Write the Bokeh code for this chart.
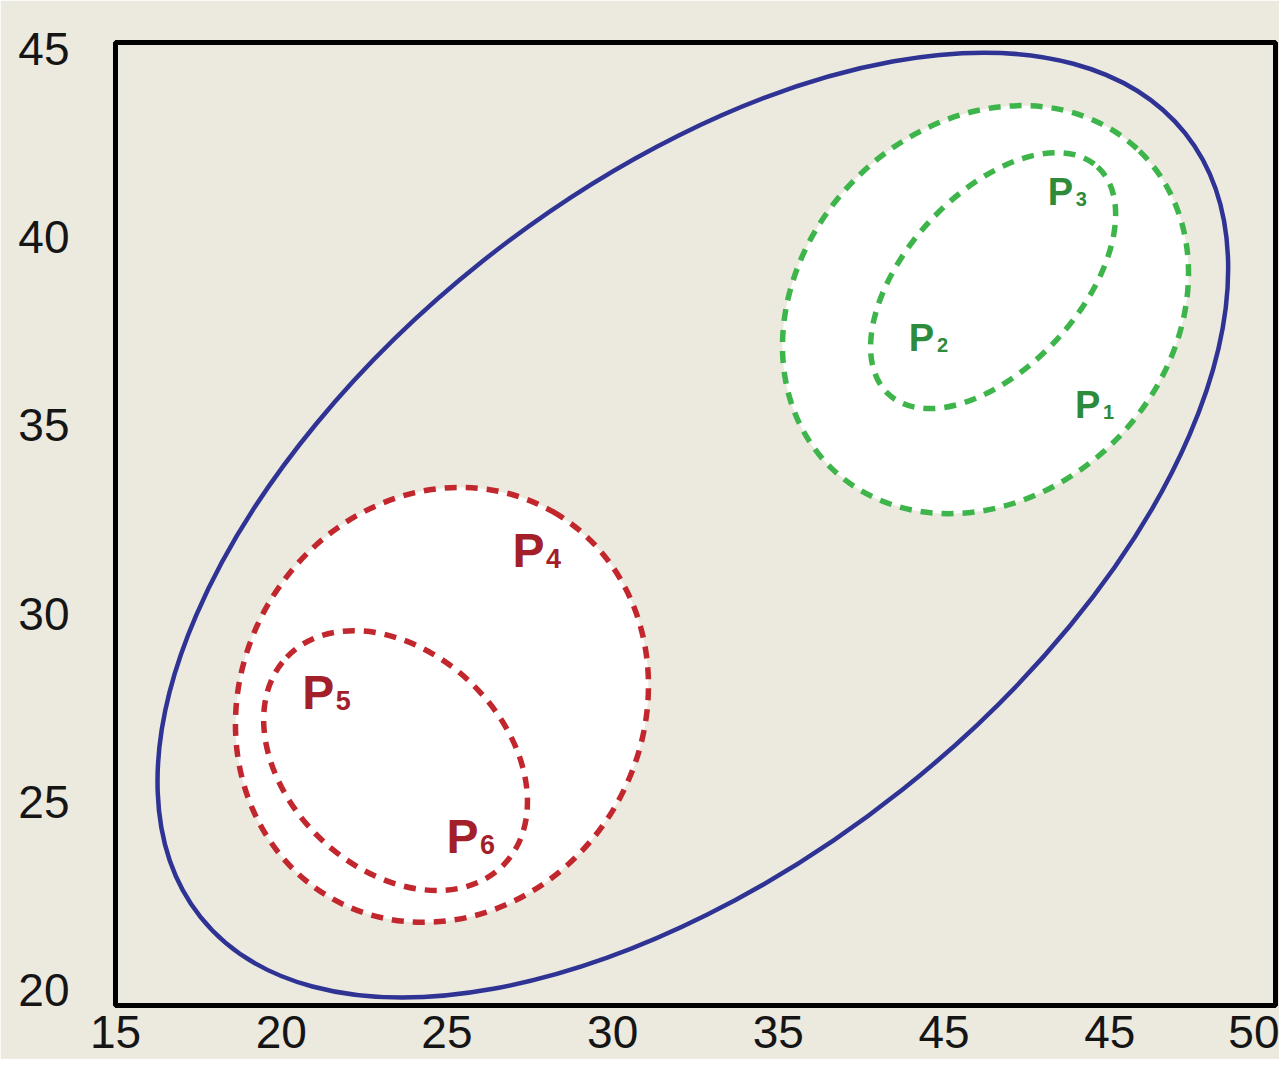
from bokeh.plotting import figure
from bokeh.models import ColumnDataSource
from bokeh.core.properties import value
from bokeh.embed import file_html
from bokeh.resources import INLINE

# ---- data ----
x_tick_values = [15, 20, 25, 30, 35, 40, 45, 50]
x_tick_labels = ["15", "20", "25", "30", "35", "45", "45", "50"]
y_tick_values = [20, 25, 30, 35, 40, 45]

# blue outer region
blue_x = [32.42]
blue_y = [32.35]
blue_w = [37.97]
blue_h = [17.92]
blue_angle = [38.5]

# green regions (outer P1, inner P2/P3)
green_x = [41.25, 41.48]
green_y = [38.07, 38.84]
green_w = [13.34, 9.32]
green_h = [9.79, 4.61]
green_angle = [45.8, 47.4]

# red regions (outer P4, inner P5/P6)
red_x = [24.85, 23.45]
red_y = [27.58, 26.10]
red_w = [13.44, 9.06]
red_h = [10.66, 5.75]
red_angle = [60.0, 136.4]

green_label_x = [44.33, 39.32, 43.51]
green_label_y = [35.53, 37.33, 41.18]
green_label_sub = ["1", "2", "3"]

red_label_x = [27.46, 21.12, 25.47]
red_label_y = [31.68, 27.91, 24.09]
red_label_sub = ["4", "5", "6"]

BG = "#ECE9DF"
BLUE = "#2E3394"
GREEN = "#3DB54A"
GREEN_TXT = "#2E8B3C"
RED = "#C1272D"
RED_TXT = "#A31F2A"

p = figure(width=1279, height=1059, x_range=(15, 50), y_range=(19.60, 45.16),
           output_backend="svg", toolbar_location=None,
           min_border_left=115, min_border_right=4, min_border_top=42, min_border_bottom=54)

p.background_fill_color = BG
p.border_fill_color = BG
p.outline_line_color = "black"
p.outline_line_width = 5
p.grid.visible = False

p.xaxis.ticker = x_tick_values
p.xaxis.major_label_overrides = {v: l for v, l in zip(x_tick_values, x_tick_labels)}
p.yaxis.ticker = y_tick_values
for ax in (p.xaxis, p.yaxis):
    ax.axis_line_color = None
    ax.major_tick_line_color = None
    ax.minor_tick_line_color = None
    ax.major_label_text_color = "#151515"
p.xaxis.major_label_text_font = "Liberation Sans"
p.xaxis.major_label_text_font_size = "46px"
p.xaxis.major_label_standoff = 4
p.yaxis.major_label_text_font = "Liberation Sans"
p.yaxis.major_label_text_font_size = "46px"
p.yaxis.major_label_standoff = 40

# blue
p.ellipse(x=blue_x, y=blue_y, width=blue_w, height=blue_h, angle=blue_angle,
          angle_units="deg", fill_color=None, line_color=BLUE, line_width=4.5)

# green
gsrc = ColumnDataSource(dict(x=green_x, y=green_y, w=green_w, h=green_h, a=green_angle))
p.ellipse(x="x", y="y", width="w", height="h", angle="a", angle_units="deg", source=gsrc,
          fill_color="white", line_color=None)
p.ellipse(x="x", y="y", width="w", height="h", angle="a", angle_units="deg", source=gsrc,
          fill_color=None, line_color=GREEN, line_width=5.5, line_dash="12 9")

# red
rsrc = ColumnDataSource(dict(x=red_x, y=red_y, w=red_w, h=red_h, a=red_angle))
p.ellipse(x="x", y="y", width="w", height="h", angle="a", angle_units="deg", source=rsrc,
          fill_color="white", line_color=None)
p.ellipse(x="x", y="y", width="w", height="h", angle="a", angle_units="deg", source=rsrc,
          fill_color=None, line_color=RED, line_width=5.5, line_dash="12 9")

# labels
p.text(x=green_label_x, y=green_label_y, text=["P"] * 3, text_align="center",
       text_baseline="middle", text_color=GREEN_TXT, text_font=value("Liberation Sans"),
       text_font_style="bold", text_font_size="38px")
p.text(x=green_label_x, y=green_label_y, text=green_label_sub, text_align="center",
       text_baseline="middle", text_color=GREEN_TXT, text_font=value("Liberation Sans"),
       text_font_style="bold", text_font_size="20px", x_offset=21, y_offset=7)

p.text(x=red_label_x, y=red_label_y, text=["P"] * 3, text_align="center",
       text_baseline="middle", text_color=RED_TXT, text_font=value("Liberation Sans"),
       text_font_style="bold", text_font_size="48px")
p.text(x=red_label_x, y=red_label_y, text=red_label_sub, text_align="center",
       text_baseline="middle", text_color=RED_TXT, text_font=value("Liberation Sans"),
       text_font_style="bold", text_font_size="27px", x_offset=25, y_offset=8)

open("out.html", "w").write(file_html(p, INLINE))
